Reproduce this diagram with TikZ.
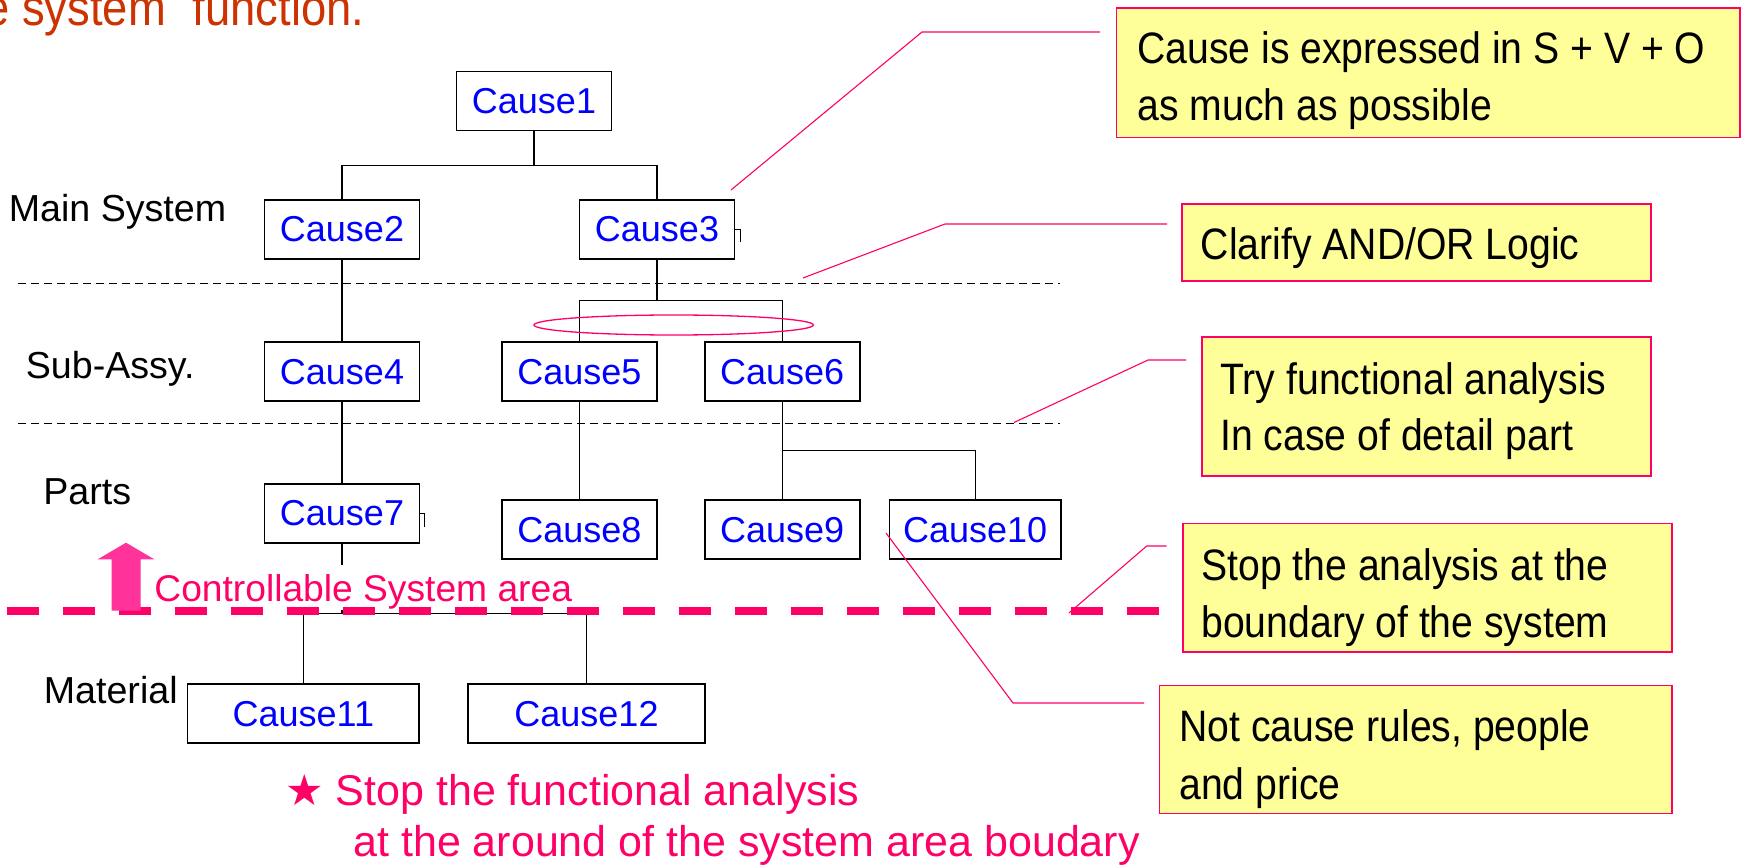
\documentclass[tikz,border=0pt]{standalone}
\usepackage{fontspec}
\setmainfont{Liberation Sans}
\newfontfamily\narrowfont{Liberation Sans}[FakeStretch=0.89]
\newfontfamily\symfont{DejaVu Sans}
\usetikzlibrary{shapes.geometric}

\definecolor{causeblue}{HTML}{0000FF}
\definecolor{hotpink}{HTML}{FF0066}
\definecolor{arrowpink}{HTML}{FF3399}
\definecolor{notefill}{HTML}{FFFF99}
\definecolor{titlered}{HTML}{CC3300}

\tikzset{
  causebox/.style={draw=black, line width=0.85pt, fill=white, minimum width=77.5pt,
    minimum height=29.5pt, inner sep=0pt, text=causeblue, font=\fontsize{18}{21}\selectfont},
  wire/.style={draw=black, line width=0.6pt},
  hook/.style={draw=black, line width=0.5pt},
  level/.style={anchor=base west, inner sep=0pt, font=\fontsize{18.8}{22}\selectfont},
  divider/.style={draw=black, line width=0.65pt, dash pattern=on 4pt off 2.5pt},
  boundary/.style={draw=hotpink, line width=3.85pt, dash pattern=on 16pt off 12pt},
  notebox/.style={draw=hotpink, fill=notefill, line width=0.8pt, anchor=north west, inner sep=0pt},
  notetext/.style={anchor=base west, inner sep=0pt, font=\narrowfont\fontsize{22}{26}\selectfont},
  leader/.style={draw=hotpink, line width=0.55pt},
  pinktext/.style={text=hotpink, anchor=base west, inner sep=0pt},
}

\begin{document}
\begin{tikzpicture}[x=0.5pt, y=-0.5pt]
\useasboundingbox (0,0) rectangle (1742,866);
\fill[white] (0,0) rectangle (1742,866);
\clip (0,0) rectangle (1742,866);

% heading, cut at the top edge
\node[anchor=base west, inner sep=0pt, text=titlered,
      font=\narrowfont\fontsize{25.5}{30}\selectfont] (title) at (-16,26)
      {e system\hspace{7pt} function.};

% level labels
\node[level] (Lmain)  at (8.5,221.7) {Main System};
\node[level] (Lsub)   at (25.5,378.3) {Sub-Assy.};
\node[level] (Lparts) at (43,504) {Parts};
\node[level] (Lmat)   at (43.5,703.3) {Material};

% level separators
\draw[divider] (18,283.3) -- (1060,283.3);
\draw[divider] (18,423.7) -- (1060,423.7);

% cause tree
\node[causebox] (C1) at (534,101) {Cause1};
\node[causebox] (C2) at (342,229.5) {Cause2};
\node[causebox] (C3) at (657,229.5) {Cause3};
\node[causebox] (C4) at (342,371.8) {Cause4};
\node[causebox] (C5) at (579.3,371.8) {Cause5};
\node[causebox] (C6) at (782.2,371.8) {Cause6};
\node[causebox] (C7) at (342,513.3) {Cause7};
\node[causebox] (C8) at (579.3,529.7) {Cause8};
\node[causebox] (C9) at (782.2,529.7) {Cause9};
\node[causebox, minimum width=85.6pt] (C10) at (975.1,529.7) {Cause10};
\node[causebox, minimum width=115.9pt] (C11) at (303.4,713.8) {Cause11};
\node[causebox, minimum width=118.2pt] (C12) at (586.5,713.8) {Cause12};

\coordinate (j1) at (534,165.7);
\coordinate (j2) at (657,300.7);
\coordinate (j3) at (782.2,450.7);
\coordinate (j4) at (342,613.3);

\draw[wire] (C1.south) -- (C1.south |- j1);
\draw[wire] (C2.north) -- (C2.north |- j1) -- (C3.north |- j1) -- (C3.north);
\draw[wire] (C3.south) -- (C3.south |- j2);
\draw[wire] (C5.north) -- (C5.north |- j2) -- (C6.north |- j2) -- (C6.north);
\draw[wire] (C2.south) -- (C4.north);
\draw[wire] (C4.south) -- (C7.north);
\draw[wire] (C5.south) -- (C8.north);
\draw[wire] (C6.south) -- (C9.north);
\draw[wire] (C9.north |- j3) -- (C10.north |- j3) -- (C10.north);
\draw[wire] (C7.south) -- (C7.south |- j4);
\draw[wire] (C11.north) -- (C11.north |- j4) -- (C12.north |- j4) -- (C12.north);

% small hooks beside two boxes
\draw[hook] (C3.east) -- ++(5.3,0) -- ++(0,12.7);
\draw[hook] (C7.east) -- ++(4,0) -- ++(0,14);

% AND/OR ring
\draw[hotpink, line width=0.65pt] (673.7,325) ellipse [x radius=69.85pt, y radius=5pt];

% controllable area boundary
\node[pinktext, font=\fontsize{18.6}{22}\selectfont, fill=white, text height=14.4pt,
      text depth=0pt, inner ysep=4pt] (ctrl) at (154,601.7) {Controllable System area};
\draw[boundary] (6.5,611.2) -- (1158.5,611.2);
\fill[arrowpink] (126,542.7) -- (154.3,559.3) -- (140.5,559.3) -- (140.5,610.7)
  -- (111.5,610.7) -- (111.5,559.3) -- (97.7,559.3) -- cycle;

% note under the tree
\node[pinktext, font=\fontsize{21.5}{25}\selectfont] (star1) at (285,805)
  {{\symfont ★}\ Stop the functional analysis};
\node[pinktext, font=\fontsize{21.5}{25}\selectfont] (star2) at (353,856.7)
  {at the around of the system area boudary};

% callout boxes
\node[notebox, minimum width=311.9pt, minimum height=64.7pt] (nA) at (1115.6,7.3) {};
\node[notebox, minimum width=234.5pt, minimum height=38.5pt] (nB) at (1181,203) {};
\node[notebox, minimum width=224.5pt, minimum height=69.5pt] (nC) at (1201,336) {};
\node[notebox, minimum width=244.5pt, minimum height=64.15pt] (nD) at (1182,522.7) {};
\node[notebox, minimum width=256.2pt, minimum height=64.05pt] (nE) at (1158.6,684.5) {};

\node[notetext] (tA1) at (1137,64) {Cause is expressed in S + V + O};
\node[notetext] (tA2) at (1137,121) {as much as possible};
\node[notetext] (tB1) at (1200.5,260) {Clarify AND/OR Logic};
\node[notetext] (tC1) at (1220,394) {Try functional analysis};
\node[notetext] (tC2) at (1220,451) {In case of detail part};
\node[notetext] (tD1) at (1201,580) {Stop the analysis at the};
\node[notetext] (tD2) at (1201,637.5) {boundary of the system};
\node[notetext] (tE1) at (1179,741) {Not cause rules, people};
\node[notetext] (tE2) at (1179,799) {and price};

% callout leaders
\coordinate (aA) at (731,190);   \coordinate (kA) at (922,32);    \coordinate (eA) at (1100,32);
\coordinate (aB) at (803,278);   \coordinate (kB) at (945,224);   \coordinate (eB) at (1167,224);
\coordinate (aC) at (1014,422.5);\coordinate (kC) at (1148,360);  \coordinate (eC) at (1186,360);
\coordinate (aD) at (1069,613);  \coordinate (kD) at (1146.7,546);\coordinate (eD) at (1166.7,546);
\coordinate (aE) at (886,533);   \coordinate (kE) at (1013,703);  \coordinate (eE) at (1144,703);
\draw[leader] (aA) -- (kA) -- (eA);
\draw[leader] (aB) -- (kB) -- (eB);
\draw[leader] (aC) -- (kC) -- (eC);
\draw[leader] (aD) -- (kD) -- (eD);
\draw[leader] (aE) -- (kE) -- (eE);
\end{tikzpicture}
\end{document}
